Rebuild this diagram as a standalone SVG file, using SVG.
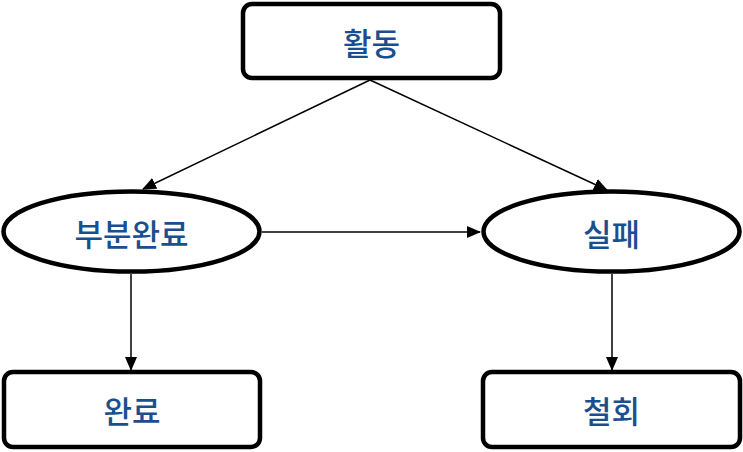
<svg xmlns="http://www.w3.org/2000/svg" width="743" height="452" viewBox="0 0 743 452">
<style>
.box{fill:#fff;stroke:#000;stroke-width:4.5}
.t{font-family:"Noto Sans CJK KR",sans-serif;font-size:31px;font-weight:500;fill:#1a4f8f;text-anchor:middle;dominant-baseline:central}
.c{stroke:#000;stroke-width:1.5;fill:none;marker-end:url(#a)}
</style>
<defs><marker id="a" markerWidth="14" markerHeight="12" refX="13" refY="6" orient="auto" markerUnits="userSpaceOnUse"><path d="M0,0L14,6L0,12z" fill="#000"/></marker></defs>
<g id="connectors">
<path class="c" d="M370,80L143,189"/>
<path class="c" d="M370,80L607,190"/>
<path class="c" d="M262,232L480,232"/>
<path class="c" d="M131,274L131,370"/>
<path class="c" d="M612,274L612,370"/>
</g>
<g id="n1"><rect class="box" x="243" y="4" width="257" height="74" rx="9"/><text class="t" x="371.5" y="41">활동</text></g>
<g id="n2"><ellipse class="box" cx="131.5" cy="231.5" rx="128" ry="40"/><text class="t" x="131.5" y="232">부분완료</text></g>
<g id="n3"><ellipse class="box" cx="611.5" cy="231.5" rx="128" ry="40"/><text class="t" x="611.5" y="232">실패</text></g>
<g id="n4"><rect class="box" x="4" y="372" width="256" height="75" rx="9"/><text class="t" x="132" y="409">완료</text></g>
<g id="n5"><rect class="box" x="483" y="372" width="257" height="75" rx="9"/><text class="t" x="611.5" y="409">철회</text></g>
</svg>
